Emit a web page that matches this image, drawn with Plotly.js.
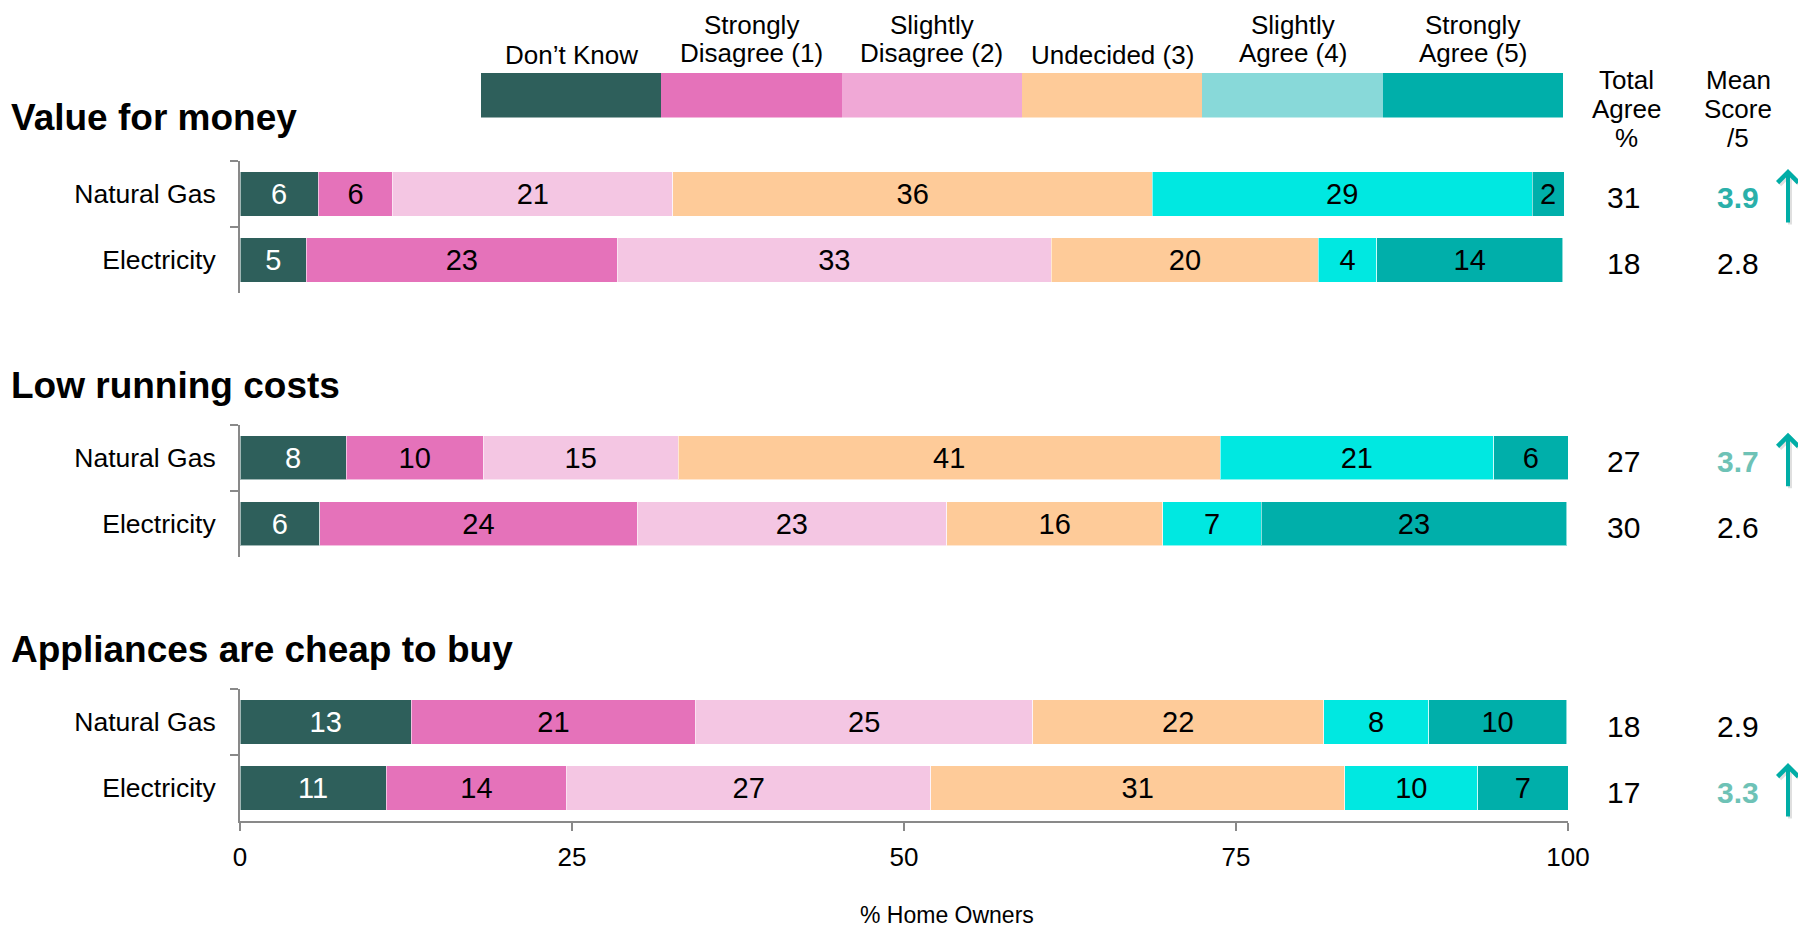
<!DOCTYPE html>
<html><head><meta charset="utf-8">
<script src="https://cdn.plot.ly/plotly-3.0.1.min.js"></script>
<style>html,body{margin:0;padding:0;background:#fff;}#chart{width:1798px;height:931px;}</style>
</head><body><div id="chart"></div>
<script>
// ---------- data ----------
const responses = ['Don’t Know', 'Strongly Disagree (1)', 'Slightly Disagree (2)', 'Undecided (3)', 'Slightly Agree (4)', 'Strongly Agree (5)'];
const fuels = ['Natural Gas', 'Electricity'];
const statements = ['Value for money', 'Low running costs', 'Appliances are cheap to buy'];

// % home owners per response (order of `responses`)
const valueGas = [5.9, 5.6, 21.1, 36.1, 28.6, 2.4];
const valueElec = [5.0, 23.4, 32.7, 20.1, 4.4, 14.0];
const runningGas = [8.0, 10.3, 14.7, 40.8, 20.6, 5.6];
const runningElec = [6.0, 23.9, 23.3, 16.3, 7.4, 23.0];
const cheapGas = [12.9, 21.4, 25.4, 21.9, 7.9, 10.4];
const cheapElec = [11.0, 13.6, 27.4, 31.2, 10.0, 6.8];

const totalAgreeGas = [31, 27, 18];
const totalAgreeElec = [18, 30, 17];
const meanGas = [3.9, 3.7, 2.9];
const meanElec = [2.8, 2.6, 3.3];
const meanUpGas = ['strong', 'soft', ''];
const meanUpElec = ['', '', 'soft'];

const xTicks = [0, 25, 50, 75, 100];
const legendUnit = [1, 1, 1, 1, 1, 1];

// ---------- styles ----------
const barColors = ['#2E5F5B', '#E572BA', '#F4C6E3', '#FECB99', '#00E8E1', '#00AFAA'];
const keyColors = ['#2E5F5B', '#E572BA', '#F0A8D6', '#FECB99', '#88D9D9', '#00AFAA'];
const textColors = ['#FFFFFF', '#000000', '#000000', '#000000', '#000000', '#000000'];
const upColors = {strong: '#2AB0AA', soft: '#6EC2B6'};
const FONT = '"Liberation Sans", Arial, Helvetica, sans-serif';
const W = 1798, H = 931;
const px = x => x / W;
const py = y => 1 - y / H;

const panelData = [[valueGas, valueElec], [runningGas, runningElec], [cheapGas, cheapElec]];
const yNames = ['y', 'y2', 'y3'];
const yDomains = [[py(293), py(161)], [py(556.8), py(424.8)], [py(821), py(689)]];

const traces = [];
panelData.forEach((pd, p) => {
  responses.forEach((r, i) => {
    traces.push({
      type: 'bar', orientation: 'h', name: r,
      x: [pd[0][i], pd[1][i]], y: fuels,
      xaxis: 'x', yaxis: yNames[p],
      marker: {color: barColors[i], line: {color: 'rgba(255,255,255,0.55)', width: 1}},
      texttemplate: '%{x:.0f}', textposition: 'inside', insidetextanchor: 'middle',
      textangle: 0, constraintext: 'none',
      insidetextfont: {family: FONT, size: 29, color: textColors[i]},
      hoverinfo: 'skip', showlegend: false
    });
  });
});
// colour key
responses.forEach((r, i) => {
  traces.push({
    type: 'bar', orientation: 'h', name: r,
    x: [legendUnit[i]], y: ['key'], width: [1],
    xaxis: 'x2', yaxis: 'y4',
    marker: {color: keyColors[i], line: {width: 0}},
    hoverinfo: 'skip', showlegend: false
  });
});

const ann = [];
// panel titles
const titleCenters = [118, 385.5, 649.5];
statements.forEach((s, p) => {
  ann.push({xref: 'paper', yref: 'paper', x: px(9), y: py(titleCenters[p]), xanchor: 'left', yanchor: 'middle',
    text: '<b>' + s + '</b>', showarrow: false, font: {family: FONT, size: 37, color: '#000'}});
});
// key labels
responses.forEach((r, i) => {
  const words = r.split(' ');
  const lines = words.length > 2 ? [words[0], words.slice(1).join(' ')] : [r];
  const centers = lines.length === 2 ? [25, 53] : [55];
  lines.forEach((t, k) => ann.push({xref: 'x2', yref: 'paper', x: i + 0.5, y: py(centers[k]),
    xanchor: 'center', yanchor: 'middle', text: t, showarrow: false, font: {family: FONT, size: 26, color: '#000'}}));
});
// column headers
[['Total', 'Agree', '%'], ['Mean', 'Score', '/5']].forEach((lines, c) => {
  const cx = c === 0 ? 1626 : 1738;
  [80, 109, 138].forEach((cy, k) => ann.push({xref: 'paper', yref: 'paper', x: px(cx), y: py(cy),
    xanchor: 'center', yanchor: 'middle', text: lines[k], showarrow: false, font: {family: FONT, size: 26, color: '#000'}}));
});
// totals, means, arrows
statements.forEach((s, p) => {
  const tot = [totalAgreeGas[p], totalAgreeElec[p]];
  const mean = [meanGas[p], meanElec[p]];
  const up = [meanUpGas[p], meanUpElec[p]];
  fuels.forEach((f, k) => {
    ann.push({xref: 'paper', yref: yNames[p], x: px(1623), y: k, yshift: -4, xanchor: 'center', yanchor: 'middle',
      text: String(tot[k]), showarrow: false, font: {family: FONT, size: 30, color: '#000'}});
    const sig = up[k];
    ann.push({xref: 'paper', yref: yNames[p], x: px(1738), y: k, yshift: -4, xanchor: 'center', yanchor: 'middle',
      text: sig ? '<b>' + mean[k].toFixed(1) + '</b>' : mean[k].toFixed(1), showarrow: false,
      font: {family: FONT, size: 30, color: sig ? upColors[sig] : '#000'}});
    if (sig) {
      ann.push({xref: 'paper', yref: yNames[p], x: px(1788), y: k, xshift: 2, yshift: 23, ax: 0, ay: 55,
        text: '', showarrow: true, arrowhead: 4, arrowwidth: 4, arrowsize: 1, arrowcolor: 'rgba(0,0,0,0.12)'});
      ann.push({xref: 'paper', yref: yNames[p], x: px(1788), y: k, yshift: 25, ax: 0, ay: 55,
        text: '', showarrow: true, arrowhead: 4, arrowwidth: 4, arrowsize: 1, arrowcolor: '#00ADA6'});
    }
  });
});
// x axis title
ann.push({xref: 'paper', yref: 'paper', x: px(947), y: py(915), xanchor: 'center', yanchor: 'middle',
  text: '% Home Owners', showarrow: false, font: {family: FONT, size: 23, color: '#000'}});

const yAxisBase = {
  type: 'category', range: [1.5, -0.5], autorange: false, anchor: 'x',
  showline: true, linecolor: '#898989', linewidth: 2,
  ticks: 'outside', tickson: 'boundaries', ticklen: 8, tickwidth: 2, tickcolor: '#898989',
  tickfont: {family: FONT, size: 26.5, color: '#000'}, ticklabelstandoff: 17,
  showgrid: false, zeroline: false, fixedrange: true
};

const layout = {
  width: W, height: H, margin: {l: 0, r: 0, t: 0, b: 0},
  paper_bgcolor: '#fff', plot_bgcolor: '#fff',
  barmode: 'stack', bargap: 0.333, showlegend: false,
  font: {family: FONT, size: 26, color: '#000'},
  xaxis: {domain: [px(240), px(1568)], range: [0, 100], anchor: 'y3',
    tickvals: xTicks, ticktext: xTicks.map(String),
    showline: true, linecolor: '#898989', linewidth: 2,
    ticks: 'outside', ticklen: 8, tickwidth: 2, tickcolor: '#898989',
    tickfont: {family: FONT, size: 26, color: '#000'}, ticklabelstandoff: 4,
    showgrid: false, zeroline: false, fixedrange: true},
  yaxis: Object.assign({}, yAxisBase, {domain: yDomains[0]}),
  yaxis2: Object.assign({}, yAxisBase, {domain: yDomains[1]}),
  yaxis3: Object.assign({}, yAxisBase, {domain: yDomains[2]}),
  xaxis2: {domain: [px(481), px(1563)], range: [0, 6], anchor: 'y4', visible: false, fixedrange: true},
  yaxis4: {domain: [py(117.5), py(73)], range: [-0.5, 0.5], anchor: 'x2', visible: false, type: 'category', fixedrange: true},
  annotations: ann
};

Plotly.newPlot('chart', traces, layout, {displayModeBar: false, staticPlot: true});
</script>
</body></html>
